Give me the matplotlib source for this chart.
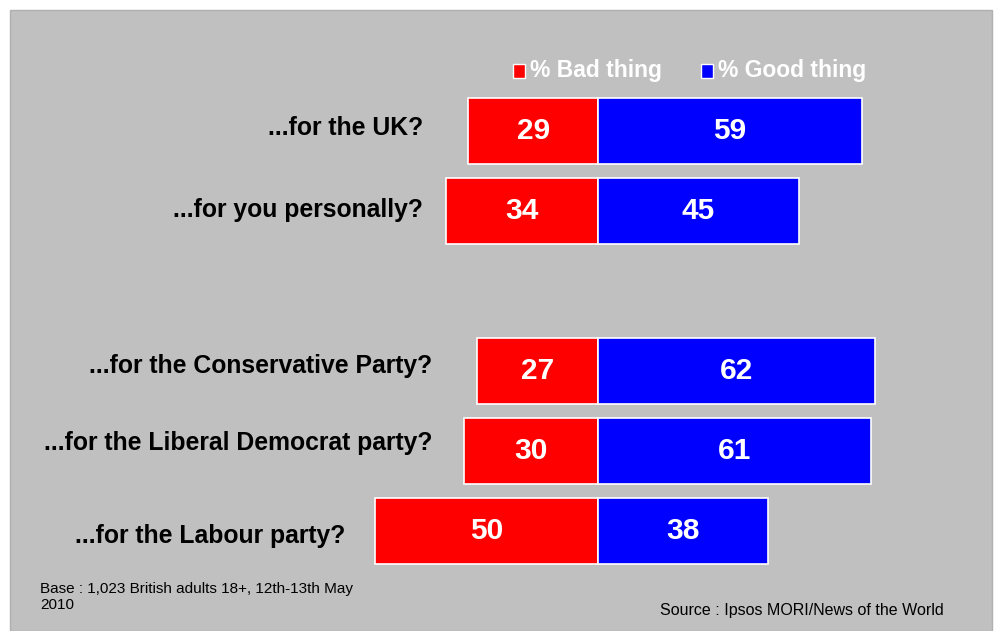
import numpy as np
import matplotlib
matplotlib.use("Agg")
import matplotlib.pyplot as plt
from matplotlib.patches import Rectangle

# data
questions = [
    "...for the UK?",
    "...for you personally?",
    "...for the Conservative Party?",
    "...for the Liberal Democrat party?",
    "...for the Labour party?",
]
group_sizes = [2, 3]
bad_thing = [29, 34, 27, 30, 50]
good_thing = [59, 45, 62, 61, 38]
legend_labels = ["% Bad thing", "% Good thing"]
base_note = "Base : 1,023 British adults 18+, 12th-13th May\n2010"
source_note = "Source : Ipsos MORI/News of the World"

# style
W, H = 994, 631
BG = "#c0c0c0"
RED = "#ff0000"
BLUE = "#0000ff"
FONT = "Liberation Sans"
# label anchors in figure pixels (right edge, centre)
label_pos = [(423, 128), (423, 210), (432, 366), (432, 443), (345, 536)]

fig = plt.figure(figsize=(W / 100, H / 100), dpi=100, facecolor="white")
fig.patches.append(Rectangle((10 / W, 0), 982 / W, 621 / H, transform=fig.transFigure,
                             facecolor=BG, edgecolor="#b0b0b0", lw=1, zorder=-5))

ax = fig.add_axes([0, 0, 1, 1])
ax.set_facecolor("none")

# positions with a one-slot gap between groups
pos = []
start = 0
for n in group_sizes:
    pos.extend(range(start, start + n))
    start += n + 1
pos = np.array(pos)

px_per_unit = 4.47
x0 = 598
ax.set_xlim(-x0 / px_per_unit, (W - x0) / px_per_unit)
row_px, top_px = 80, 131
ax.set_ylim((H - top_px) / row_px, -top_px / row_px)

bad = np.array(bad_thing)
good = np.array(good_thing)
ax.barh(pos, -bad, height=0.83, color=RED, edgecolor="white", linewidth=1.2)
ax.barh(pos, good, height=0.83, color=BLUE, edgecolor="white", linewidth=1.2)

for p, b, g in zip(pos, bad, good):
    ax.text(-b / 2, p, str(b), ha="center", va="center", color="white",
            fontsize=21.5, fontweight="bold", family=FONT)
    ax.text(g / 2, p, str(g), ha="center", va="center", color="white",
            fontsize=21.5, fontweight="bold", family=FONT)

for q, (lx, ly) in zip(questions, label_pos):
    fig.text(lx / W, 1 - ly / H, q, ha="right", va="center", fontsize=17.8,
             fontweight="bold", family=FONT, color="black")

ax.axis("off")

# legend
for (mx, tx), lab, col in zip([(513, 530), (701, 718)], legend_labels, [RED, BLUE]):
    fig.patches.append(Rectangle((mx / W, 1 - 78 / H), 12 / W, 14 / H,
                                 transform=fig.transFigure, facecolor=col,
                                 edgecolor="white", lw=1, zorder=3))
    fig.text(tx / W, 1 - 70 / H, lab, ha="left", va="center", fontsize=16.5,
             fontweight="bold", family=FONT, color="white")

fig.text(40 / W, 1 - 597 / H, base_note, ha="left", va="center", fontsize=11,
         family=FONT, color="black", linespacing=1.25)
fig.text(660 / W, 1 - 610 / H, source_note, ha="left", va="center", fontsize=11.5,
         family=FONT, color="black")

fig.savefig("out.png", dpi=100, facecolor="white")
